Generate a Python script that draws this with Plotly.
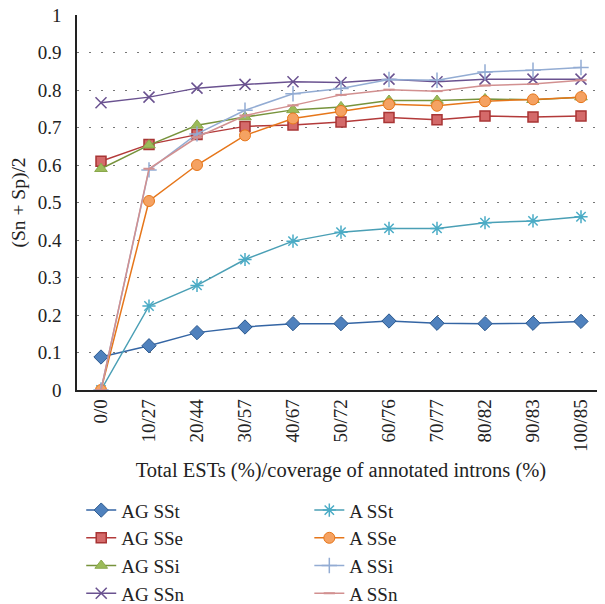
import plotly.graph_objects as go

categories = ["0/0", "10/27", "20/44", "30/57", "40/67", "50/72", "60/76", "70/77", "80/82", "90/83", "100/85"]

ag_sst = [0.088, 0.118, 0.153, 0.168, 0.177, 0.177, 0.184, 0.178, 0.177, 0.178, 0.183]
ag_sse = [0.610, 0.655, 0.681, 0.703, 0.707, 0.715, 0.727, 0.721, 0.731, 0.728, 0.731]
ag_ssi = [0.590, 0.653, 0.706, 0.728, 0.747, 0.755, 0.772, 0.772, 0.776, 0.774, 0.781]
ag_ssn = [0.766, 0.781, 0.805, 0.815, 0.822, 0.820, 0.829, 0.822, 0.829, 0.829, 0.829]
a_sst = [0.0, 0.224, 0.279, 0.348, 0.397, 0.421, 0.431, 0.431, 0.446, 0.451, 0.462]
a_sse = [0.0, 0.504, 0.600, 0.679, 0.724, 0.744, 0.762, 0.758, 0.770, 0.775, 0.781]
a_ssi = [0.0, 0.587, 0.683, 0.746, 0.790, 0.804, 0.828, 0.826, 0.848, 0.853, 0.860]
a_ssn = [0.0, 0.590, 0.674, 0.732, 0.759, 0.787, 0.801, 0.797, 0.812, 0.816, 0.826]

y_ticks = [0, 0.1, 0.2, 0.3, 0.4, 0.5, 0.6, 0.7, 0.8, 0.9, 1]
y_tick_text = ["0", "0.1", "0.2", "0.3", "0.4", "0.5", "0.6", "0.7", "0.8", "0.9", "1"]

FONT = "Liberation Serif"

series = [
    ("AG SSt", ag_sst, "#3465a4", dict(symbol="diamond", size=11, color="#4F81BD", line=dict(color="#2d5a8f", width=1)), "legend"),
    ("AG SSe", ag_sse, "#b33a3a", dict(symbol="square", size=10, color="#d46a6a", line=dict(color="#a83535", width=1.5)), "legend"),
    ("AG SSi", ag_ssi, "#77933C", dict(symbol="triangle-up", size=11, color="#9BBB59", line=dict(color="#8aa84c", width=1)), "legend"),
    ("AG SSn", ag_ssn, "#6a5290", dict(symbol="x-thin-open", size=11, color="#6a5290", line=dict(color="#6a5290", width=1.5)), "legend"),
    ("A SSt", a_sst, "#4a9fb5", dict(symbol="asterisk-open", size=11, color="#4BACC6", line=dict(color="#4a9fb5", width=1.5)), "legend2"),
    ("A SSe", a_sse, "#e6761a", dict(symbol="circle", size=11, color="#f5a262", line=dict(color="#e6761a", width=1)), "legend2"),
    ("A SSi", a_ssi, "#93acd3", dict(symbol="cross-thin-open", size=11, color="#93acd3", line=dict(color="#93acd3", width=1.5)), "legend2"),
    ("A SSn", a_ssn, "#d29090", dict(symbol="line-ew-open", size=8, color="#d29090", line=dict(color="#d29090", width=2)), "legend2"),
]

fig = go.Figure()
for name, vals, lc, mk, lg in series:
    fig.add_trace(go.Scatter(
        x=categories, y=vals, name=name, mode="lines+markers",
        line=dict(color=lc, width=1.5), marker=mk, legend=lg,
    ))

# page body has an 8px default margin, so the figure is sized 8px smaller
fig.update_layout(
    width=597, height=596,
    margin=dict(l=69, r=0, t=7, b=214, autoexpand=False),
    paper_bgcolor="white", plot_bgcolor="white",
    font=dict(family=FONT, size=19, color="#222"),
    showlegend=True,
    legend=dict(x=0.008, y=-0.27, xanchor="left", yanchor="top", maxheight=300,
                font=dict(family=FONT, size=19, color="#222"), bgcolor="rgba(0,0,0,0)"),
    legend2=dict(x=0.44, y=-0.27, xanchor="left", yanchor="top", maxheight=300,
                 font=dict(family=FONT, size=19, color="#222"), bgcolor="rgba(0,0,0,0)"),
)

fig.update_xaxes(
    type="category", range=[-0.5, 10.5], tickangle=-90, automargin=False,
    showline=True, linecolor="#222", linewidth=1.5, showgrid=False, ticks="",
    tickfont=dict(family=FONT, size=19, color="#222"),
    title=dict(text="Total ESTs (%)/coverage of annotated introns (%)",
               font=dict(family=FONT, size=20.5, color="#222"), standoff=12),
)
fig.update_yaxes(
    range=[0, 1], tickvals=y_ticks, ticktext=y_tick_text, automargin=False,
    ticklabeloverflow="allow",
    showline=True, linecolor="#222", linewidth=1.5, ticks="",
    showgrid=True, gridcolor="#777", gridwidth=1, griddash="2px,10px",
    zeroline=False, ticklabelstandoff=10,
    tickfont=dict(family=FONT, size=19, color="#222"),
    title=dict(text="(Sn + Sp)/2", font=dict(family=FONT, size=19.5, color="#222"), standoff=7),
)

fig.write_html("out.html")
